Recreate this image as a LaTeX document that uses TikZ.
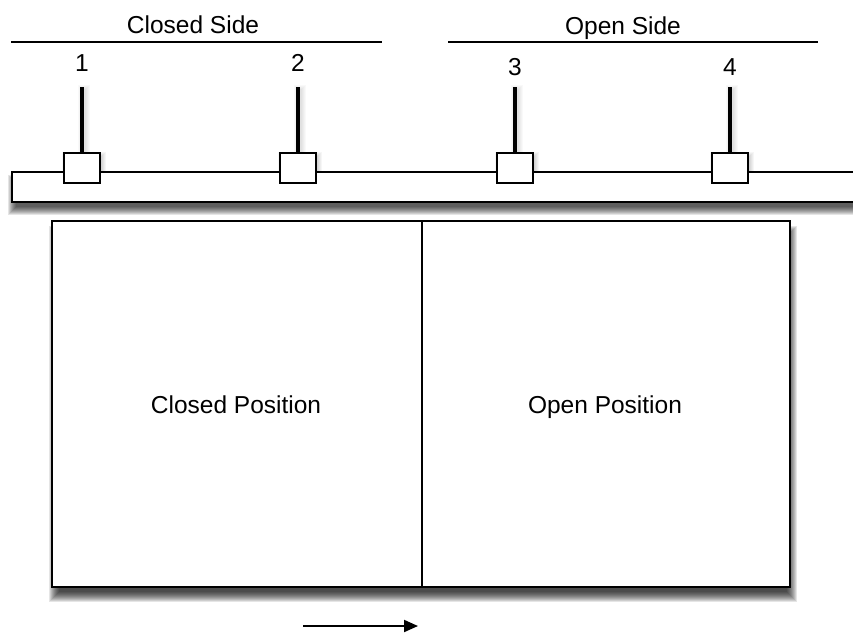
\documentclass[tikz,border=0pt]{standalone}
\usepackage{fontspec}
\setmainfont{Liberation Sans}
\usetikzlibrary{arrows.meta}
\pgfdeclarelayer{shade}
\pgfsetlayers{shade,main}
% soft drop shadow between two corners: a shrunk, shifted rectangle
% grown step by step with translucent fills
% #1 nw corner, #2 se corner, #3 shrink, #4 xshift, #5 yshift, #6 steps, #7 opacity
\newcommand{\dropshade}[7]{%
  \begin{pgfonlayer}{shade}
  \foreach \r in {0,...,#6} {
    \fill[black, opacity=#7]
      ([xshift=#4+#3-\r pt, yshift=#5+\r pt-#3]#1) rectangle
      ([xshift=#4+\r pt-#3, yshift=#5+#3-\r pt]#2);
  }
  \end{pgfonlayer}}
\begin{document}
\begin{tikzpicture}[x=1pt,y=1pt,
  lbl/.style={font=\fontsize{24.5}{28}\selectfont, inner sep=0pt, anchor=base},
  rail/.style={draw, line width=2pt, fill=white, inner sep=0pt,
      minimum width=858pt, minimum height=30pt},
  carrier/.style={draw, line width=1.8pt, fill=white, inner sep=0pt,
      minimum width=36pt, minimum height=30pt},
  panel/.style={draw, line width=2pt, fill=white, inner sep=0pt,
      minimum height=366pt},
  stem/.style={line width=3.4pt},
  rule/.style={line width=1.6pt}]
\useasboundingbox (0,-633) rectangle (853,0);
\clip (0,-633) rectangle (853,0);
\begin{pgfonlayer}{shade}
\fill[white] (0,-633) rectangle (853,0);
\end{pgfonlayer}

% side headings and their rules
\node[lbl] (closedside) at (193,-33) {Closed Side};
\node[lbl] (openside) at (623,-34) {Open Side};
\coordinate (cl) at (11,-42);
\coordinate (cr) at (382,-42);
\coordinate (ol) at (448,-42);
\coordinate (or) at (818,-42);
\draw[rule] (cl) -- (cr);
\draw[rule] (ol) -- (or);

% the track
\node[rail] (track) at (441,-187) {};
\dropshade{track.north west}{track.south east}{4pt}{1pt}{-8pt}{8}{0.1}

% the four carriers with their stems
\foreach \i/\x/\ny in {1/82/-71, 2/298/-71, 3/515/-75, 4/730/-75} {
  \node[carrier] (c\i) at (\x,-168) {};
  \coordinate (t\i) at (\x,-87);
  \draw[stem] (c\i.north) -- (t\i);
  \node[lbl] (n\i) at (\x,\ny) {\i};
  \dropshade{c\i.north west}{c\i.south east}{2pt}{2pt}{-3pt}{5}{0.035}
  \begin{pgfonlayer}{shade}
  \foreach \r in {0,...,4}
    \fill[black, opacity=0.025] ([xshift=-\r pt, yshift=\r pt-2pt]t\i)
      rectangle ([xshift=\r pt+4pt]c\i.north);
  \end{pgfonlayer}
}

% the door panels, sharing the middle edge
\node[panel, minimum width=370pt] (closedpos) at (237,-404) {};
\node[panel, minimum width=368pt] (openpos) at (606,-404) {};
\node[lbl] at (236,-413) {Closed Position};
\node[lbl] at (605,-413) {Open Position};
\dropshade{closedpos.north west}{openpos.south east}{6pt}{2pt}{-10pt}{10}{0.1}

% direction of travel
\coordinate (al) at (303,-626);
\coordinate (ar) at (418,-626);
\draw[line width=2pt, -{Triangle[length=14pt,width=12pt]}] (al) -- (ar);
\end{tikzpicture}
\end{document}
